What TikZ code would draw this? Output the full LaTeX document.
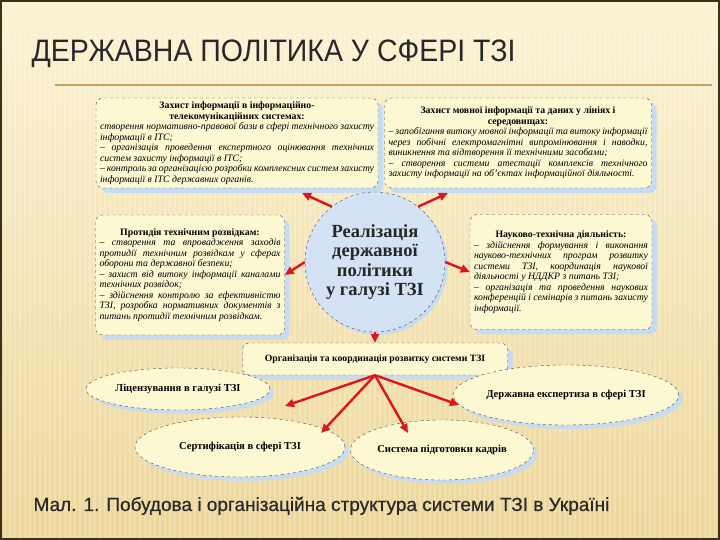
\documentclass[tikz,border=0pt]{standalone}
\usepackage{fontspec}
\setmainfont{Liberation Serif}
\newfontfamily\headfont[FakeStretch=0.92]{Liberation Sans}
\newfontfamily\capfont[FakeBold=0.6]{Liberation Sans}
\usetikzlibrary{shapes.geometric,shadows,arrows.meta}
\definecolor{bgtop}{HTML}{FCF3D4}
\definecolor{bgbot}{HTML}{EDD699}
\definecolor{framebrown}{HTML}{3E301A}
\definecolor{linegold}{HTML}{C9A060}
\definecolor{titlegray}{HTML}{282828}
\definecolor{boxfill}{HTML}{FBF8D2}
\definecolor{shadowblue}{HTML}{C8DCF1}
\definecolor{circfill}{HTML}{D3E2F4}
\definecolor{arrowred}{HTML}{E2141B}

\begin{document}
\begin{tikzpicture}[x=1pt,y=1pt,
    box/.style={draw=black!70,dashed,rounded corners=7pt,fill=boxfill,
      drop shadow={shadow xshift=5pt,shadow yshift=-5pt,fill=shadowblue,opacity=1},
      inner sep=3pt,font=\fontsize{9.8}{10.5}\selectfont,align=justify},
    oval/.style={ellipse,draw=black!70,dashed,fill=boxfill,inner sep=0pt,
      drop shadow={shadow xshift=4pt,shadow yshift=-4pt,fill=shadowblue,opacity=1},
      font=\fontsize{10.6}{12}\selectfont\bfseries},
    arr/.style={draw=arrowred,line width=2.4pt,-{Triangle[length=9pt,width=8pt]}}]
  % background
  \useasboundingbox (0,0) rectangle (720,540);
  \shade[top color=bgtop,bottom color=bgbot] (0,0) rectangle (720,540);
  \foreach \x in {0,5,...,720}
    \draw[white,opacity=0.22,line width=1.6pt] (\x,0) -- (\x,508);
  \draw[framebrown,line width=2pt] (1,1) rectangle (719,539);
  \draw[linegold,line width=1.4pt] (55,455) -- (712,455);
  % title and caption
  \node[anchor=base west,font=\headfont\fontsize{31}{32}\selectfont,text=titlegray] (T) at (28,478) {ДЕРЖАВНА ПОЛІТИКА У СФЕРІ ТЗІ};
  \node[anchor=base west,font=\capfont\fontsize{19}{20}\selectfont,text=titlegray] (Cap) at (30,29) {Мал. 1. Побудова і організаційна структура системи ТЗІ в Україні};
  % upper boxes
  \draw (237,397) node[box,minimum width=282,minimum height=90,text width=274] (B1) {{\centering\bfseries Захист інформації в інформаційно-\\телекомунікаційних системах:\par}\itshape
    створення нормативно-правової бази в сфері технічного захисту інформації в ІТС;\par
    – організація проведення експертного оцінювання технічних систем захисту інформації в ІТС;\par
    – контроль за організацією розробки комплексних систем захисту інформації в ІТС державних органів.};
  \draw (518,397) node[box,minimum width=267,minimum height=90,text width=259] (B2) {{\centering\bfseries Захист мовної інформації та даних у лініях і\\середовищах:\par}\itshape
    – запобігання витоку мовної інформації та витоку інформації через побічні електромагнітні випромінювання і наводки, виникнення та відтворення її технічними засобами;\par
    – створення системи атестації комплексів технічного захисту інформації на об'єктах інформаційної діяльності.};
  % middle boxes
  \draw (190,265) node[box,minimum width=189,minimum height=120,text width=181] (B3) {{\centering\bfseries Протидія технічним розвідкам:\par}\itshape
    – створення та впровадження заходів протидії технічним розвідкам у сферах оборони та державної безпеки;\par
    – захист від витоку інформації каналами технічних розвідок;\par
    – здійснення контролю за ефективністю ТЗІ, розробка нормативних документів з питань протидії технічним розвідкам.};
  \draw (561,268) node[box,minimum width=182,minimum height=115,text width=174] (B4) {{\centering\bfseries Науково-технічна діяльність:\par}\itshape
    – здійснення формування і виконання науково-технічних програм розвитку системи ТЗІ, координація наукової діяльності у НДДКР з питань ТЗІ;\par
    – організація та проведення наукових конференцій і семінарів з питань захисту інформації.};
  % centre
  \draw (375,278) node[circle,draw=black!70,dashed,fill=circfill,minimum size=140,
    drop shadow={shadow xshift=3pt,shadow yshift=-3pt,fill=shadowblue,opacity=1},
    align=center,font=\fontsize{18.5}{19.5}\selectfont\bfseries,text=black!85] (C) {Реалізація\\державної\\політики\\у галузі ТЗІ};
  \draw (375,181) node[box,minimum width=265,minimum height=32,align=center,font=\fontsize{9.7}{11}\selectfont\bfseries] (O) {Організація та координація розвитку системи ТЗІ};
  % lower ovals
  \draw (178,151) node[oval,minimum width=184,minimum height=42] (E1) {Ліцензування в галузі ТЗІ};
  \draw (566,145) node[oval,minimum width=192,minimum height=60] (E2) {Державна експертиза в сфері ТЗІ};
  \draw (240,93) node[oval,minimum width=210,minimum height=60] (E3) {Сертифікація в сфері ТЗІ};
  \draw (442,90) node[oval,minimum width=168,minimum height=60] (E4) {Система підготовки кадрів};
  % links from centre
  \coordinate (tl) at (302,347);
  \coordinate (tr) at (448,347);
  \draw[arr] (C.128) -- (tl);
  \draw[arr] (C.52) -- (tr);
  \draw[arr] (C.west) -- (B3.east);
  \draw[arr] (C.east) -- (B4.west);
  \draw[arr] (C.south) -- (O.north);
  % links from organisation box
  \coordinate (t1) at (285,134);
  \coordinate (t2) at (321,107);
  \coordinate (t3) at (408,107);
  \coordinate (t4) at (459,135);
  \draw[arr] (O.south) -- (t1);
  \draw[arr] (O.south) -- (t2);
  \draw[arr] (O.south) -- (t3);
  \draw[arr] (O.south) -- (t4);
\end{tikzpicture}
\end{document}
